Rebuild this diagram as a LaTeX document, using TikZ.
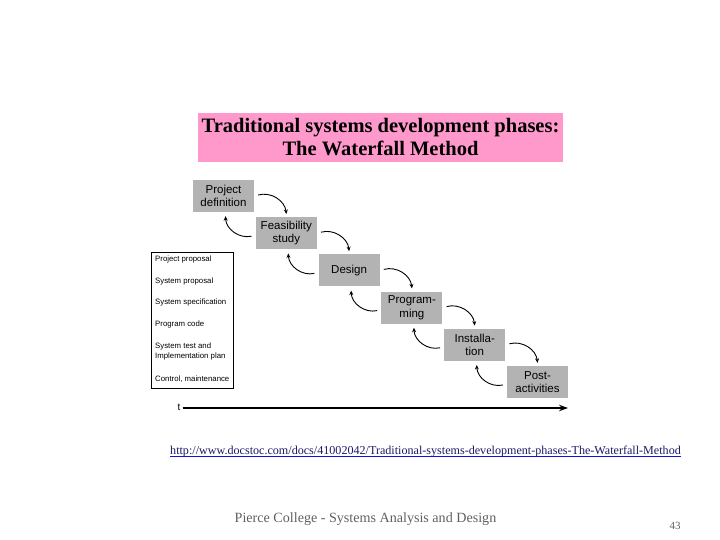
\documentclass[tikz,border=0pt]{standalone}
\usepackage{fontspec}
\setmainfont{Liberation Serif}
\setsansfont{Liberation Sans}
\usetikzlibrary{positioning, arrows.meta}
\definecolor{titlePink}{HTML}{FF99CC}
\definecolor{phaseGray}{HTML}{B3B3B3}
\definecolor{linkBlue}{HTML}{1010E0}
\definecolor{linkText}{HTML}{1A1A66}
\definecolor{footGray}{HTML}{606060}

\begin{document}
\begin{tikzpicture}[x=1pt, y=-1pt,
    phase/.style={fill=phaseGray, minimum width=61pt, minimum height=32pt, inner sep=0pt,
      align=center, font=\sffamily\fontsize{11.5}{13.5}\selectfont},
    flow/.style={-{Stealth[length=4.5pt, width=4pt]}, line width=0.9pt, bend left=50},
    doc/.style={anchor=west, inner sep=0pt, align=left, font=\sffamily\fontsize{7.8}{10.5}\selectfont}]
    \useasboundingbox (0,0) rectangle (720,540);
    % Title banner
    \node[fill=titlePink, minimum width=365pt, minimum height=49pt, inner sep=0pt, align=center,
      font=\bfseries\fontsize{20.5}{23}\selectfont] (title) at (380.5,137.5)
      {Traditional systems development phases:\\The Waterfall Method};
    % Phases, stepping down to the right
    \node[phase] (def) at (223.5,196) {Project\\definition};
    \node[phase, below right=4.8pt and 1.4pt of def] (feas) {Feasibility\\study};
    \node[phase, below right=4.8pt and 1.4pt of feas] (des) {Design};
    \node[phase, below right=4.8pt and 1.4pt of des] (prog) {Program-\\ming};
    \node[phase, below right=4.8pt and 1.4pt of prog] (inst) {Installa-\\tion};
    \node[phase, below right=4.8pt and 1.4pt of inst] (post) {Post-\\activities};
    % Forward and backward arrows between phases
    \foreach \a/\b in {def/feas, feas/des, des/prog, prog/inst, inst/post} {
      \draw[flow] ([shift={(4,-1)}]\a.east) to ([shift={(0,-3)}]\b.north);
      \draw[flow] ([shift={(-4,3)}]\b.west) to ([shift={(2,4)}]\a.south);
    }
    % Documents produced
    \node[draw, line width=0.8pt, minimum width=82pt, minimum height=136pt, inner sep=0pt] (docs) at (192,320) {};
    \foreach \y/\txt [count=\i] in {259/Project proposal, 281/System proposal, 302/System specification,
      324/Program code, 351.5/{System test and\\Implementation plan}, 379/{Control, maintenance}} {
      \node[doc] (d\i) at (155,\y) {\txt};
    }
    % Time axis
    \node[font=\sffamily\fontsize{10}{10}\selectfont, inner sep=2pt] (t) at (179,407) {t};
    \coordinate (tend) at (568,408);
    \draw[-{Stealth[length=9pt, width=6.5pt]}, line width=2.6pt] (t.east |- tend) -- (tend);
    % Source link
    \node[text=linkText, inner sep=0pt, font=\fontsize{12.1}{12}\selectfont] (url) at (425.5,452)
      {http://www.docstoc.com/docs/41002042/Traditional-systems-development-phases-The-Waterfall-Method};
    \draw[linkBlue, line width=0.7pt] ([yshift=-1.5pt]url.base west) -- ([yshift=-1.5pt]url.base east);
    % Footer
    \node[text=footGray, font=\fontsize{14.1}{14}\selectfont] (foot) at (365.5,519) {Pierce College - Systems Analysis and Design};
    \node[text=footGray, font=\fontsize{11}{11}\selectfont] (page) at (675,526) {43};
\end{tikzpicture}
\end{document}
